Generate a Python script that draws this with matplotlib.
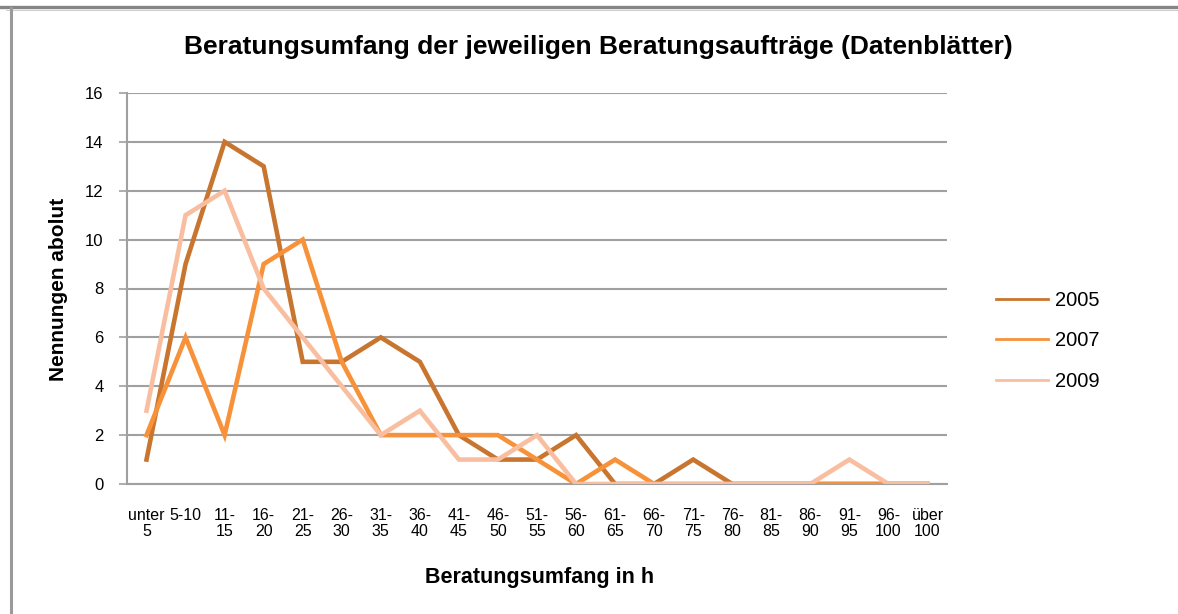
#!/usr/bin/env python3
"""
Beratungsumfang der jeweiligen Beratungsauftraege - line chart 2005/2007/2009
"""

import matplotlib
matplotlib.use('Agg')
import matplotlib.pyplot as plt
from matplotlib.lines import Line2D

plt.rcParams['font.family'] = ['Liberation Sans', 'DejaVu Sans']

# categories (hours)
categories = ['unter\n5', '5-10', '11-\n15', '16-\n20', '21-\n25', '26-\n30', '31-\n35',
              '36-\n40', '41-\n45', '46-\n50', '51-\n55', '56-\n60', '61-\n65', '66-\n70',
              '71-\n75', '76-\n80', '81-\n85', '86-\n90', '91-\n95', '96-\n100', 'über\n100']

values_2005 = [1, 9, 14, 13, 5, 5, 6, 5, 2, 1, 1, 2, 0, 0, 1, 0, 0, 0, 0, 0, 0]
values_2007 = [2, 6, 2, 9, 10, 5, 2, 2, 2, 2, 1, 0, 1, 0, 0, 0, 0, 0, 0, 0, 0]
values_2009 = [3, 11, 12, 8, 6, 4, 2, 3, 1, 1, 2, 0, 0, 0, 0, 0, 0, 0, 1, 0, 0]

series_names = ['2005', '2007', '2009']
series_colors = ['#C8752F', '#F7923A', '#F8BE9F']

fig = plt.figure(figsize=(11.78, 6.14), dpi=100)
ax = fig.add_axes([127 / 1178, 1 - 484 / 614, 820 / 1178, 391 / 614])

x = range(len(categories))
for vals, name, col in zip([values_2005, values_2007, values_2009], series_names, series_colors):
    ax.plot(x, vals, color=col, lw=3.3, solid_joinstyle='miter', label=name, zorder=3)

ax.set_xlim(-0.5, len(categories) - 0.5)
ax.set_ylim(0, 16)
ax.set_yticks(range(0, 17, 2))
ax.set_xticks(list(x))
ax.set_xticklabels(categories, fontsize=11.5, va='top', linespacing=1.1)
ax.tick_params(axis='x', length=0, pad=17)
ax.tick_params(axis='y', length=6, width=1.2, color='#A0A0A0', pad=11, labelsize=12)

# grid
ax.grid(axis='y', color='#A0A0A0', lw=1.5, zorder=1)
ax.set_axisbelow(True)
for s in ['top', 'right']:
    ax.spines[s].set_visible(False)
ax.spines['left'].set_color('#A0A0A0')
ax.spines['left'].set_linewidth(1.5)
ax.spines['bottom'].set_color('#A0A0A0')
ax.spines['bottom'].set_linewidth(1.5)

fig.text(598 / 1178, 1 - 47 / 614, 'Beratungsumfang der jeweiligen Beratungsaufträge (Datenblätter)',
         ha='center', va='center', fontsize=19, fontweight='bold')
fig.text(540 / 1178, 1 - 578 / 614, 'Beratungsumfang in h',
         ha='center', va='center', fontsize=15.5, fontweight='bold')
fig.text(58 / 1178, 1 - 289 / 614, 'Nennungen abolut',
         ha='center', va='center', fontsize=15, fontweight='bold', rotation=90)

# legend with thinner lines
handles = [Line2D([], [], color=c, lw=2.0) for c in series_colors]
fig.legend(handles, series_names, loc='center left', bbox_to_anchor=(978 / 1178, 1 - 341 / 614),
           frameon=False, fontsize=14.5, handlelength=2.6, handletextpad=0.3, labelspacing=1.05)

# outer border bits of the screenshot
fig.add_artist(Line2D([0, 1], [1 - 6.5 / 614] * 2, color='#858585', lw=2.4, transform=fig.transFigure))
fig.add_artist(Line2D([0.005, 1], [1 - 9.5 / 614] * 2, color='#D0D0D0', lw=0.8, transform=fig.transFigure))
fig.add_artist(Line2D([11 / 1178] * 2, [0, 1 - 8 / 614], color='#9A9A9A', lw=2.2, transform=fig.transFigure))

fig.savefig('out.png', dpi=100)
